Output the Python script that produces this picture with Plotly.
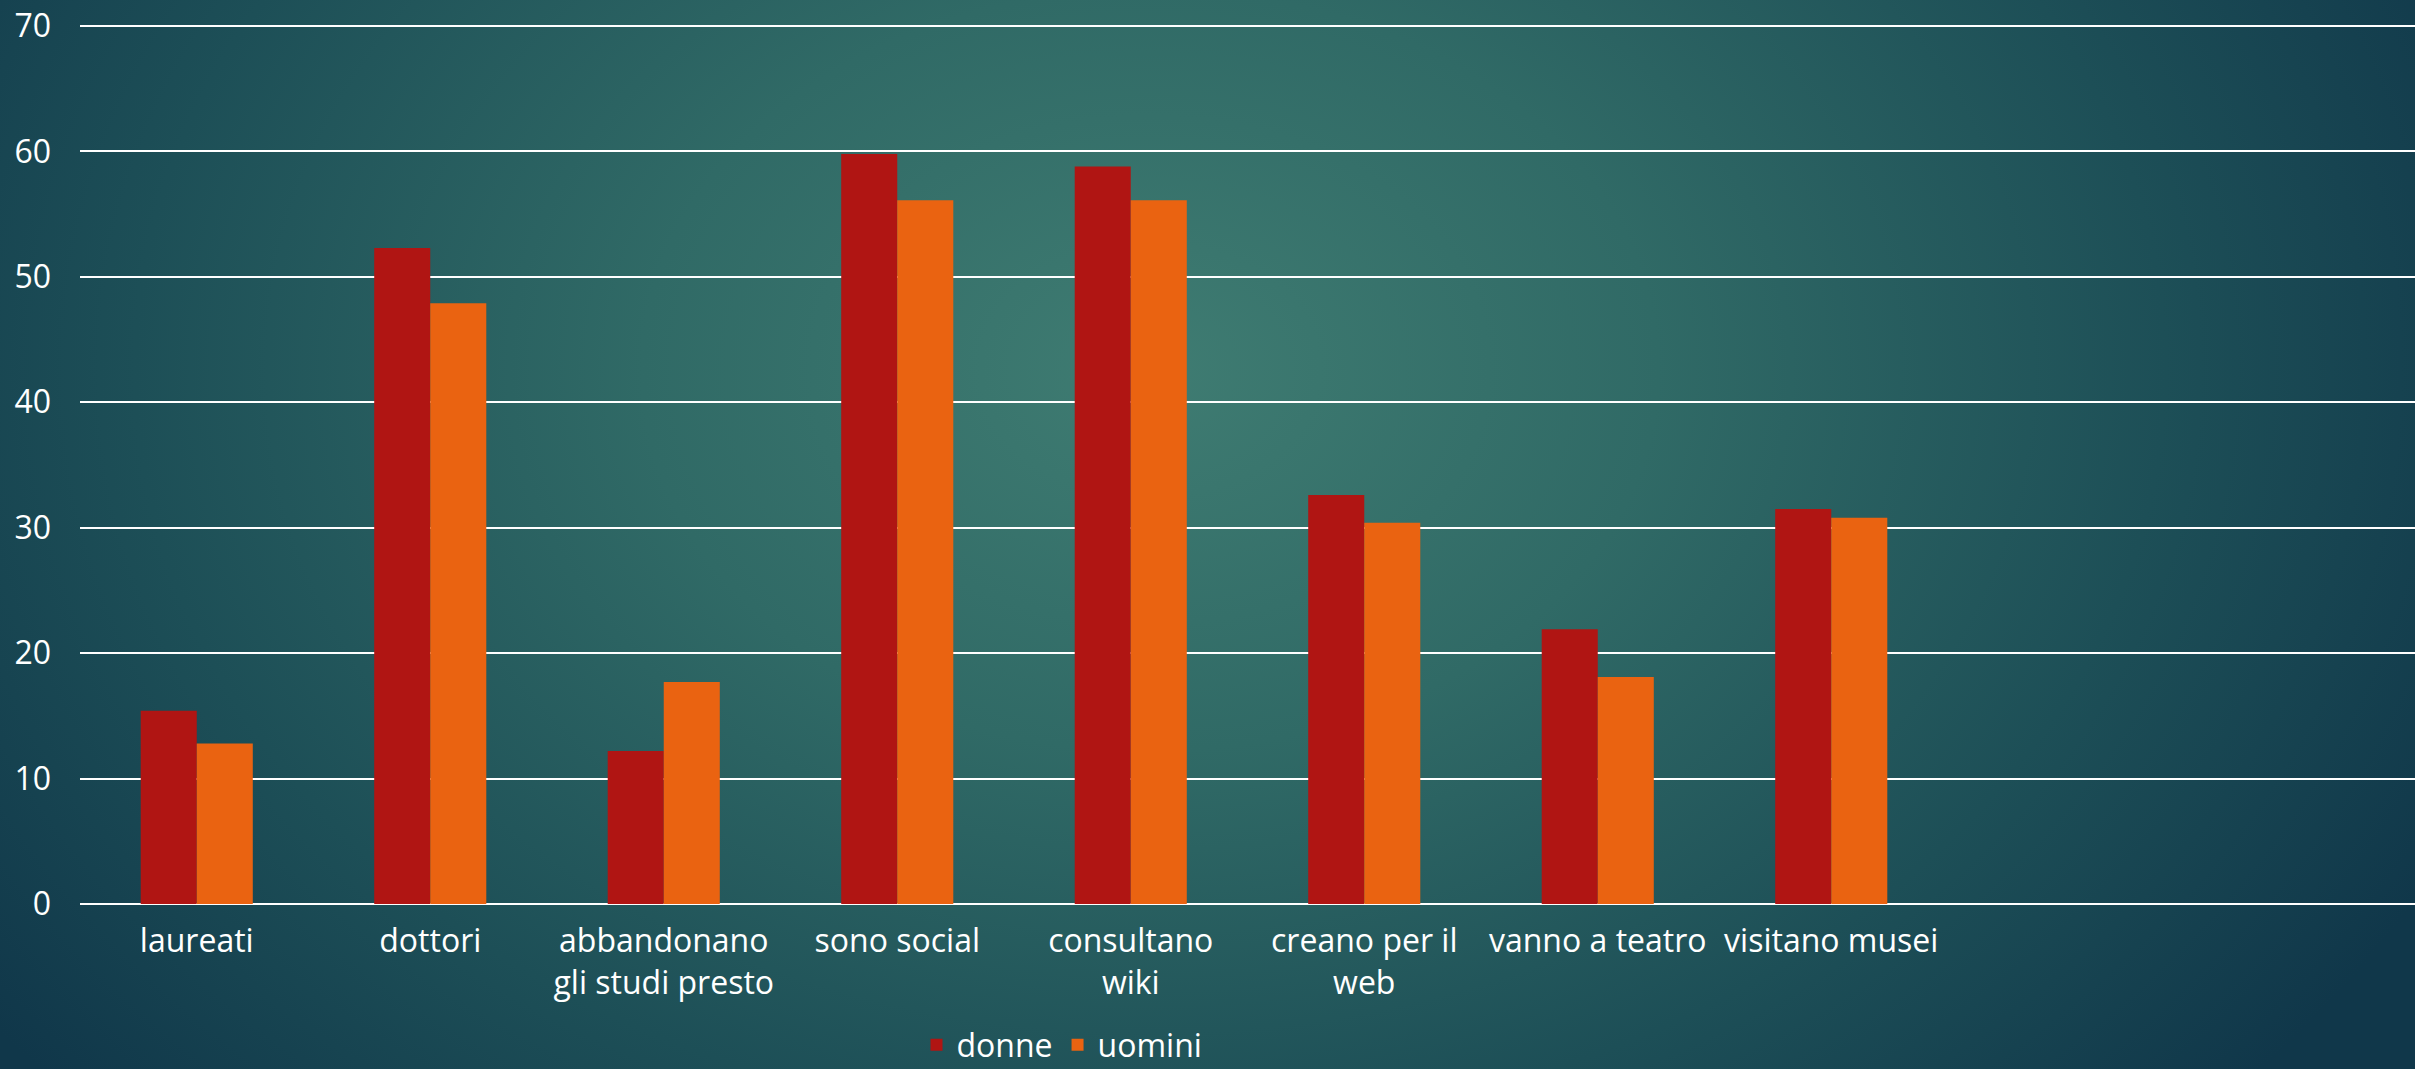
import base64
import plotly.graph_objects as go

# Survey categories and percentages by gender
categories = [
    "laureati",
    "dottori",
    "abbandonano<br>gli studi presto",
    "sono social",
    "consultano<br>wiki",
    "creano per il<br>web",
    "vanno a teatro",
    "visitano musei",
]
donne = [15.4, 52.3, 12.2, 59.8, 58.8, 32.6, 21.9, 31.5]
uomini = [12.8, 47.9, 17.7, 56.1, 56.1, 30.4, 18.1, 30.8]
y_ticks = [0, 10, 20, 30, 40, 50, 60, 70]

W, H = 2415, 1069
M_L, M_R, M_T, M_B = 80, 0, 24, 163
plot_w = W - M_L - M_R
plot_h = H - M_T - M_B
Y_PAD = 0.16  # keeps the 0 and 70 gridlines inside the plot area

# Teal radial-gradient backdrop drawn as an inline SVG
svg = f"""<svg xmlns='http://www.w3.org/2000/svg' width='{W}' height='{H}' viewBox='0 0 {W} {H}' preserveAspectRatio='none'>
<defs>
<radialGradient id='g' cx='1150' cy='370' r='1450' gradientUnits='userSpaceOnUse' gradientTransform='translate(1150 370) scale(1 0.75) translate(-1150 -370)'>
<stop offset='0' stop-color='#3f7c72'/>
<stop offset='0.35' stop-color='#306a66'/>
<stop offset='0.7' stop-color='#1d4f57'/>
<stop offset='1' stop-color='#10374a'/>
</radialGradient>
</defs>
<rect width='{W}' height='{H}' fill='url(#g)'/>
</svg>"""
bg_src = "data:image/svg+xml;base64," + base64.b64encode(svg.encode()).decode()

FONT = "Open Sans"
FS = 32
fig = go.Figure()
fig.add_trace(go.Bar(name="donne", x=categories, y=donne,
                     marker=dict(color="#B01513", line=dict(width=0))))
fig.add_trace(go.Bar(name="uomini", x=categories, y=uomini,
                     marker=dict(color="#EA6311", line=dict(width=0))))

fig.update_layout(
    width=W, height=H,
    margin=dict(l=M_L, r=M_R, t=M_T, b=M_B, pad=0, autoexpand=False),
    paper_bgcolor="#1d4f57",
    plot_bgcolor="rgba(0,0,0,0)",
    font=dict(family=FONT, size=FS, color="white"),
    barmode="group",
    bargap=0.52,
    bargroupgap=0,
    showlegend=True,
    legend=dict(
        orientation="h",
        x=(1062 - M_L) / plot_w, xanchor="center",
        y=(M_T + plot_h - 1045) / plot_h, yanchor="middle",
        font=dict(family=FONT, size=FS, color="white"),
        bgcolor="rgba(0,0,0,0)",
        itemwidth=30,
        traceorder="normal",
    ),
    images=[dict(
        source=bg_src, xref="paper", yref="paper",
        x=-M_L / plot_w, y=1 + M_T / plot_h,
        sizex=W / plot_w, sizey=H / plot_h,
        xanchor="left", yanchor="top",
        sizing="stretch", layer="below",
    )],
)

fig.update_xaxes(
    type="category",
    range=[-0.5, 9.5],
    showgrid=False, zeroline=False, showline=False,
    ticks="", ticklabelstandoff=13,
    tickfont=dict(family=FONT, size=FS, color="white"),
)
fig.update_yaxes(
    range=[-Y_PAD, 70 + Y_PAD],
    tickvals=y_ticks,
    showgrid=True, gridcolor="white", gridwidth=2,
    zeroline=False, showline=False,
    ticks="", ticklabelstandoff=28,
    tickfont=dict(family=FONT, size=FS, color="white"),
)

fig.write_html("out.html")
